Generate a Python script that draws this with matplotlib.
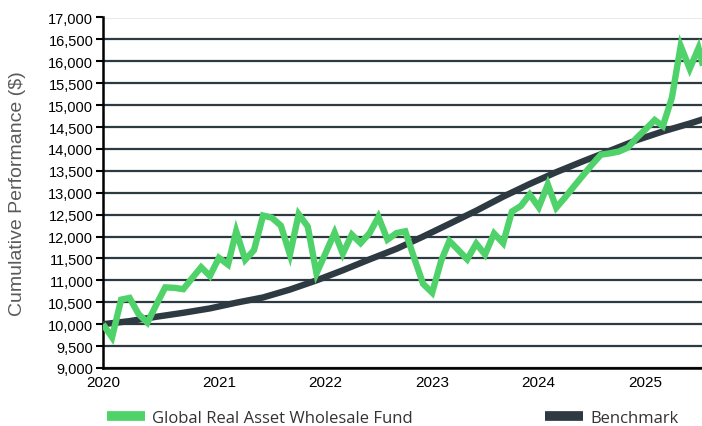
import pandas as pd
import matplotlib
matplotlib.use('Agg')
from matplotlib import pyplot as plt
from matplotlib.lines import Line2D
from matplotlib.ticker import FuncFormatter, MultipleLocator

# monthly values, first point = start of the series
fund_values = [
    10000, 9700, 10560, 10600, 10230, 10035, 10450, 10840, 10830, 10800,
    11050, 11300, 11100, 11515, 11360, 12120, 11470, 11690, 12480, 12430,
    12250, 11590, 12510, 12230, 11160, 11620, 12090, 11610, 12045, 11850,
    12080, 12450, 11930, 12080, 12120, 11500, 10920, 10720, 11450, 11900,
    11690, 11480, 11840, 11590, 12070, 11850, 12570, 12700, 12960, 12670,
    13190, 12660, 12900, 13150, 13400, 13640, 13870, 13900, 13940, 14030,
    14250, 14450, 14660, 14520, 15170, 16350, 15830, 16300, 15500,
]
fund_dates = pd.date_range('2019-12-01', periods=len(fund_values), freq='MS')

# benchmark read every quarter (smooth curve)
bench_values = [
    10000, 10070, 10170, 10260, 10360, 10490, 10610, 10790, 11000, 11230,
    11480, 11720, 12000, 12290, 12590, 12910, 13200, 13470, 13720, 13960,
    14200, 14400, 14580,
]
bench_dates = pd.date_range('2019-12-01', periods=len(bench_values), freq='3MS')
bench_dates = bench_dates.append(pd.DatetimeIndex(['2025-08-01']))
bench_values = bench_values + [14710]

year_labels = ['2020', '2021', '2022', '2023', '2024', '2025']
series_labels = ['Global Real Asset Wholesale Fund', 'Benchmark']

green = '#50d26b'
dark = '#2e3a41'

plt.rcParams['font.family'] = ['Liberation Sans', 'DejaVu Sans']

fig = plt.figure(figsize=(7.02, 4.27), dpi=100)
ax = fig.add_axes([103 / 702, 1 - 369 / 427, 1 - 103 / 702, (369 - 18.5) / 427])

ax.plot(bench_dates, bench_values, color=dark, lw=4.6, solid_capstyle='butt', zorder=3)
ax.plot(fund_dates, fund_values, color=green, lw=4.6, solid_joinstyle='miter',
        solid_capstyle='butt', zorder=4)

ax.set_ylim(9000, 17000)
ax.set_xlim(fund_dates[0], pd.Timestamp('2025-07-13'))
ax.yaxis.set_major_locator(MultipleLocator(500))
ax.yaxis.set_major_formatter(FuncFormatter(lambda v, p: f'{int(v):,}'))
ax.grid(axis='y', color=dark, lw=1.6, zorder=1)
ax.set_axisbelow(True)

xticks = [fund_dates[0]] + [pd.Timestamp(f'{y}-01-01') for y in year_labels[1:]]
ax.set_xticks(xticks)
ax.set_xticklabels(year_labels)

for s in ['top', 'right']:
    ax.spines[s].set_visible(False)
for s in ['left', 'bottom']:
    ax.spines[s].set_linewidth(1.8)
    ax.spines[s].set_color('black')
ax.tick_params(axis='y', length=5, width=1.5, labelsize=10.5, pad=2, colors='black')
ax.tick_params(axis='x', length=0, labelsize=11, pad=5)

ax.set_ylabel('Cumulative Performance ($)', fontsize=14, color='#5a5a5a')
ax.yaxis.set_label_coords(-77 / 599, 0.5)

h_fund = Line2D([], [], color=green, lw=7, solid_capstyle='butt')
h_bench = Line2D([], [], color=dark, lw=7, solid_capstyle='butt')
leg_kw = dict(frameon=False, handlelength=2.3, handletextpad=0.4, borderaxespad=0,
              borderpad=0, prop={'family': 'Open Sans', 'size': 12}, labelcolor='#333333')
fig.legend([h_fund], [series_labels[0]], loc='center left',
           bbox_to_anchor=(107 / 702, 1 - 419 / 427), **leg_kw)
fig.legend([h_bench], [series_labels[1]], loc='center left',
           bbox_to_anchor=(545 / 702, 1 - 419 / 427), **leg_kw)

fig.savefig('out.png', dpi=100)
